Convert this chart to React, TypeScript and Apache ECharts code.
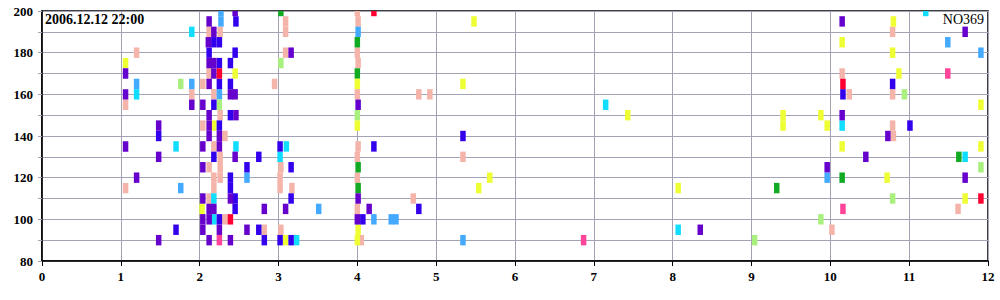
import React, { useEffect, useRef } from "react";
import * as echarts from "echarts";

const titleLeft = "2006.12.12 22:00";
const titleRight = "NO369";
const xTickValues = [0, 1, 2, 3, 4, 5, 6, 7, 8, 9, 10, 11, 12];
const yLabelValues = [80, 100, 120, 140, 160, 180, 200];

const pink: number[][] = [
  [1.2, 180], [1.9, 160], [1.06, 155], [1.06, 115],
  [2.12, 190], [2.26, 190], [3.09, 195], [3.09, 190], [3.09, 180], [2.12, 170], [2.04, 165], [2.95, 165],
  [2.18, 160], [2.26, 150], [2.04, 145], [2.32, 140], [2.18, 135], [2.26, 130], [2.12, 125], [2.26, 125],
  [3.03, 125], [2.18, 120], [2.26, 120], [2.18, 115], [3.02, 120], [3.02, 115], [3.17, 115], [2.12, 110],
  [2.32, 100], [2.82, 95], [3.03, 95],
  [4.0, 200], [4.01, 195], [4.0, 180], [4.01, 175], [4.0, 160], [4.78, 160], [4.92, 160], [4.01, 135],
  [4.0, 130], [4.0, 120], [4.71, 110], [4.0, 105], [4.05, 90], [5.34, 130],
  [10.79, 190], [10.15, 170], [10.24, 160], [10.79, 160], [10.79, 145], [10.8, 140], [11.62, 105], [10.02, 95],
];
const lightBlue: number[][] = [
  [1.2, 165], [1.9, 165], [1.76, 115], [2.27, 200], [2.27, 195], [2.25, 160], [2.6, 120], [3.51, 105],
  [4.01, 190], [4.21, 100], [4.43, 100], [4.49, 100], [5.34, 90], [11.49, 185], [11.91, 180], [9.96, 120],
];
const lightGreen: number[][] = [
  [1.76, 165], [2.25, 155], [3.03, 175], [4.0, 150], [10.94, 160], [11.91, 125], [10.79, 110], [9.88, 100], [9.04, 90],
];
const green: number[][] = [
  [3.03, 200], [4.0, 185], [4.0, 170], [4.01, 125], [4.01, 115], [11.63, 130], [10.15, 120], [9.32, 115],
];
const yellow: number[][] = [
  [1.06, 175], [2.45, 170], [2.18, 145], [2.03, 105], [3.09, 90], [4.0, 165], [4.0, 145], [4.01, 95], [4.0, 90],
  [5.48, 195], [5.34, 165], [7.43, 150], [5.68, 120], [5.54, 115], [10.8, 195], [10.15, 185], [10.79, 180],
  [10.87, 170], [11.91, 155], [9.4, 150], [9.4, 145], [9.88, 150], [9.96, 145], [10.15, 135], [11.91, 135],
  [10.72, 120], [8.07, 115], [11.71, 110],
];
const cyan: number[][] = [
  [1.9, 190], [1.2, 160], [1.7, 135], [2.46, 135], [3.1, 135], [3.02, 130], [2.18, 110], [2.18, 100], [3.23, 90],
  [7.15, 155], [11.21, 200], [10.15, 145], [11.71, 130], [8.07, 95],
];
const blue: number[][] = [
  [1.48, 140], [1.7, 95],
  [2.46, 195], [2.18, 185], [2.25, 185], [2.12, 180], [2.45, 180], [2.25, 175], [2.39, 175], [2.25, 165],
  [2.39, 165], [2.18, 155], [2.39, 150], [2.25, 145], [3.02, 135], [2.18, 130], [2.75, 130], [2.6, 125],
  [3.16, 125], [2.39, 120], [2.39, 115], [2.45, 110], [2.45, 105], [3.16, 110], [2.25, 100], [2.75, 95],
  [2.82, 90], [3.02, 90], [3.16, 90],
  [4.21, 135], [4.78, 105], [4.07, 100], [5.34, 140],
  [10.79, 165], [10.16, 160], [11.01, 145],
];
const purple: number[][] = [
  [1.06, 170], [1.06, 160], [1.9, 155], [1.48, 145], [1.06, 135], [1.48, 130], [1.2, 120], [1.48, 90],
  [2.12, 195], [2.45, 200], [2.18, 190], [2.11, 185], [3.16, 180], [2.12, 175], [2.18, 175], [2.18, 170],
  [2.12, 165], [2.39, 160], [2.45, 160], [2.04, 155], [2.12, 150], [2.46, 150], [2.12, 145], [2.12, 140],
  [2.25, 140], [2.04, 135], [2.25, 135], [2.45, 130], [2.04, 125], [2.04, 110], [2.39, 110], [2.12, 105],
  [2.18, 105], [2.82, 105], [3.09, 105], [2.04, 100], [2.12, 100], [2.04, 95], [2.25, 95], [2.6, 95],
  [2.12, 90], [2.39, 90],
  [4.01, 155], [4.01, 110], [4.15, 105], [4.0, 100],
  [10.15, 195], [11.71, 190], [10.15, 150], [10.73, 140], [10.45, 130], [9.96, 125], [11.71, 120], [8.35, 95],
];
const red: number[][] = [
  [2.25, 170], [2.39, 100], [4.21, 200], [10.16, 165], [11.91, 110],
];
const hotPink: number[][] = [
  [2.25, 90], [6.87, 90], [11.49, 170], [10.16, 105],
];

const groups = [
  { name: "pink", color: "#f5b4aa", data: pink },
  { name: "lightBlue", color: "#44aaff", data: lightBlue },
  { name: "lightGreen", color: "#aaf07f", data: lightGreen },
  { name: "green", color: "#11aa22", data: green },
  { name: "yellow", color: "#eeff33", data: yellow },
  { name: "cyan", color: "#11ddff", data: cyan },
  { name: "blue", color: "#3300ee", data: blue },
  { name: "purple", color: "#6600cc", data: purple },
  { name: "red", color: "#ff0033", data: red },
  { name: "hotPink", color: "#ff4499", data: hotPink },
];

export default function App() {
  const ref = useRef<HTMLDivElement>(null);
  useEffect(() => {
    if (!ref.current) return;
    const chart = echarts.init(ref.current, null, { renderer: "svg" });
    const renderItem = (params: any, api: any) => {
      const c = api.coord([api.value(0), api.value(1)]);
      const h = api.size([0, 5])[1];
      const w = 5.5;
      const cs = params.coordSys;
      const rect = echarts.graphic.clipRectByRect(
        { x: c[0] - w / 2, y: c[1] - h / 2, width: w, height: h },
        { x: cs.x, y: cs.y, width: cs.width, height: cs.height }
      );
      if (!rect) return null;
      return { type: "rect", shape: rect, style: { fill: api.visual("color") } };
    };
    const labelFont = {
      fontFamily: "'Liberation Serif', 'Times New Roman', serif",
      fontWeight: "bold" as const,
      fontSize: 13,
      color: "#000",
    };
    chart.setOption({
      animation: false,
      backgroundColor: "#fff",
      grid: {
        left: 42, right: 12, top: 11, bottom: 39,
        show: true, borderColor: "#000", borderWidth: 1.5, backgroundColor: "transparent",
      },
      xAxis: {
        type: "value", min: 0, max: 12, interval: 1,
        axisLine: { show: true, lineStyle: { color: "#000", width: 1.5 } },
        axisTick: { show: true, length: 5, lineStyle: { color: "#000" } },
        axisLabel: { ...labelFont, margin: 9, formatter: (v: number) => (xTickValues.includes(v) ? String(v) : "") },
        splitLine: { show: true, lineStyle: { color: "#a3a3b5", width: 1 } },
      },
      yAxis: {
        type: "value", min: 80, max: 200, interval: 10,
        axisLine: { show: true, lineStyle: { color: "#000", width: 1.5 } },
        axisTick: { show: true, length: 4, lineStyle: { color: "#a3a3b5" } },
        axisLabel: { ...labelFont, margin: 9, formatter: (v: number) => (yLabelValues.includes(v) ? String(v) : "") },
        splitLine: { show: true, lineStyle: { color: "#a3a3b5", width: 1 } },
      },
      graphic: [
        {
          type: "text", left: 45, top: 12, z: 100,
          style: { text: titleLeft, font: "bold 14px 'Liberation Serif', 'Times New Roman', serif", fill: "#000" },
        },
        {
          type: "text", right: 16, top: 12, z: 100,
          style: { text: titleRight, font: "14px 'Liberation Serif', 'Times New Roman', serif", fill: "#000" },
        },
      ],
      series: groups.map((g) => ({
        type: "custom",
        name: g.name,
        renderItem,
        itemStyle: { color: g.color },
        encode: { x: 0, y: 1 },
        data: g.data,
      })),
    });
    return () => chart.dispose();
  }, []);
  return <div ref={ref} style={{ position: "absolute", left: 0, top: 0, width: 1000, height: 300 }} />;
}
